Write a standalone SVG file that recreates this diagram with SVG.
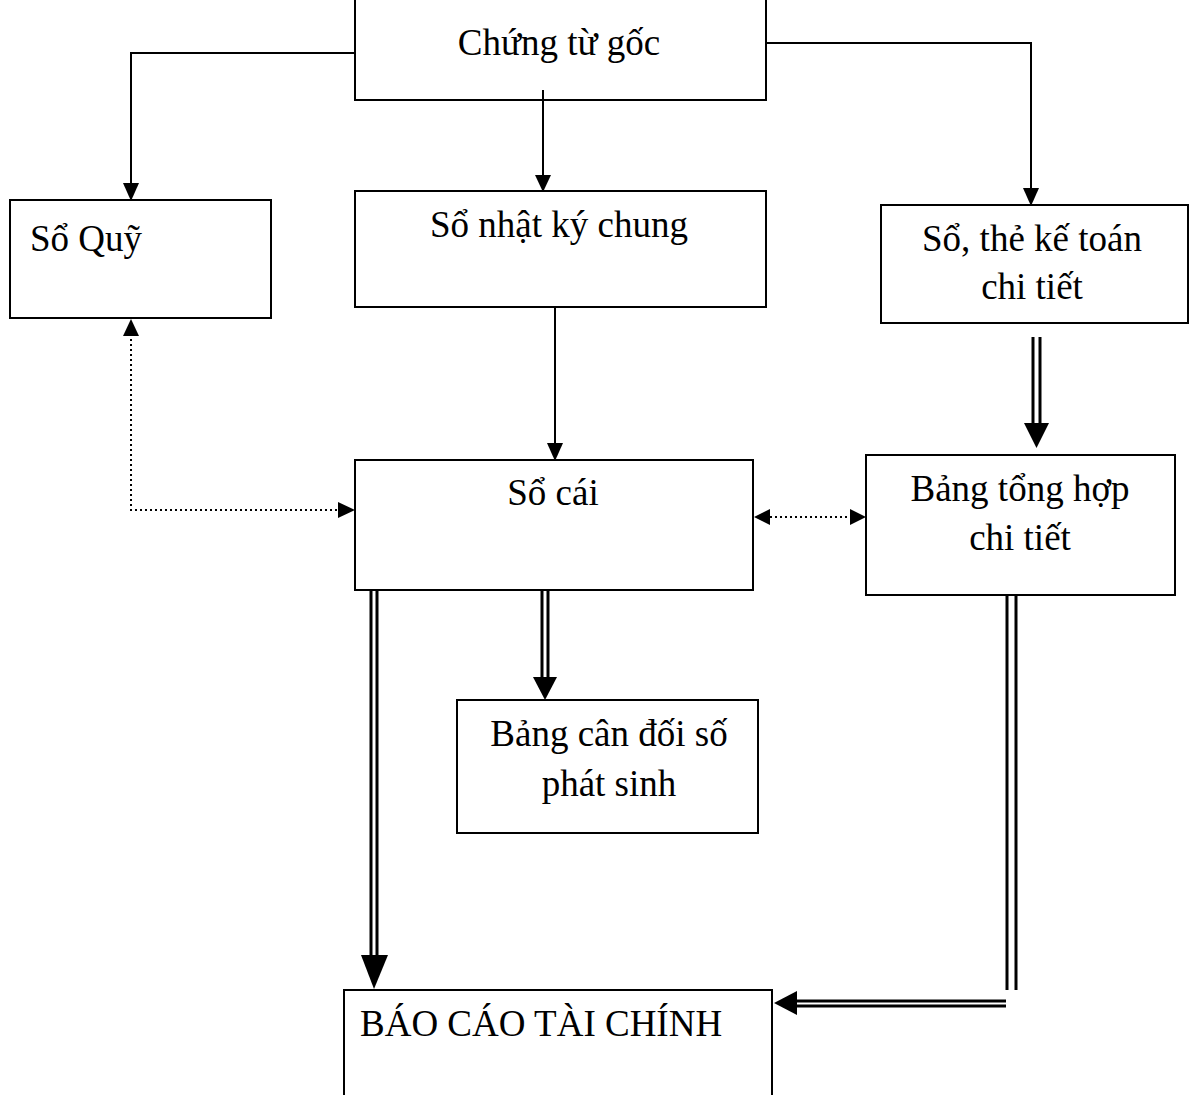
<svg xmlns="http://www.w3.org/2000/svg" width="1194" height="1095" viewBox="0 0 1194 1095">
  <style>
    .box { fill: #fff; stroke: #000; stroke-width: 2; }
    .lbl { font-family: "Liberation Serif", "Times New Roman", serif; font-size: 37px; fill: #000; }
    .c { text-anchor: middle; }
    .ln { fill: none; stroke: #000; stroke-width: 2; }
    .dbl { fill: none; stroke: #000; stroke-width: 3; }
    .dot { fill: none; stroke: #000; stroke-width: 2; stroke-dasharray: 2 3; }
    .head { fill: #000; }
  </style>
  <rect width="1194" height="1095" fill="#fff"/>

  <g id="chung-tu-goc">
    <rect class="box" x="355" y="-2" width="411" height="102"/>
    <text class="lbl c" x="559" y="55">Chứng từ gốc</text>
  </g>
  <g id="so-quy">
    <rect class="box" x="10" y="200" width="261" height="118"/>
    <text class="lbl" x="30" y="251">Sổ Quỹ</text>
  </g>
  <g id="so-nhat-ky-chung">
    <rect class="box" x="355" y="191" width="411" height="116"/>
    <text class="lbl c" x="559" y="237">Sổ nhật ký chung</text>
  </g>
  <g id="so-the-ke-toan-chi-tiet">
    <rect class="box" x="881" y="205" width="307" height="118"/>
    <text class="lbl c" x="1032" y="251">Sổ, thẻ kế toán</text>
    <text class="lbl c" x="1032" y="299">chi tiết</text>
  </g>
  <g id="so-cai">
    <rect class="box" x="355" y="460" width="398" height="130"/>
    <text class="lbl c" x="553" y="505">Sổ cái</text>
  </g>
  <g id="bang-tong-hop-chi-tiet">
    <rect class="box" x="866" y="455" width="309" height="140"/>
    <text class="lbl c" x="1020" y="501">Bảng tổng hợp</text>
    <text class="lbl c" x="1020" y="550">chi tiết</text>
  </g>
  <g id="bang-can-doi-so-phat-sinh">
    <rect class="box" x="457" y="700" width="301" height="133"/>
    <text class="lbl c" x="609" y="746">Bảng cân đối số</text>
    <text class="lbl c" x="609" y="796">phát sinh</text>
  </g>
  <g id="bao-cao-tai-chinh">
    <rect class="box" x="344" y="990" width="428" height="120"/>
    <text class="lbl" x="360" y="1036">BÁO CÁO TÀI CHÍNH</text>
  </g>

  <g id="connectors">
    <!-- Chứng từ gốc to Sổ Quỹ -->
    <polyline class="ln" points="355,53 131,53 131,185"/>
    <polygon class="head" points="123,183 139,183 131,201"/>
    <!-- Chứng từ gốc to Sổ nhật ký chung -->
    <line class="ln" x1="543" y1="90" x2="543" y2="176"/>
    <polygon class="head" points="535,175 551,175 543,192"/>
    <!-- Chứng từ gốc to Sổ, thẻ kế toán chi tiết -->
    <polyline class="ln" points="766,43 1031,43 1031,190"/>
    <polygon class="head" points="1023,188 1039,188 1031,206"/>
    <!-- Sổ nhật ký chung to Sổ cái -->
    <line class="ln" x1="555" y1="307" x2="555" y2="445"/>
    <polygon class="head" points="547,443 563,443 555,461"/>
    <!-- Sổ Quỹ and Sổ cái (dotted, two-way) -->
    <polyline class="dot" points="131,334 131,510 340,510"/>
    <polygon class="head" points="123,336 139,336 131,319"/>
    <polygon class="head" points="338,502 338,518 355,510"/>
    <!-- Sổ cái and Bảng tổng hợp chi tiết (dotted, two-way) -->
    <line class="dot" x1="770" y1="517" x2="851" y2="517"/>
    <polygon class="head" points="770,509 770,525 754,517"/>
    <polygon class="head" points="850,509 850,525 866,517"/>
    <!-- Sổ, thẻ kế toán chi tiết to Bảng tổng hợp chi tiết -->
    <line class="dbl" x1="1033" y1="337" x2="1033" y2="425"/>
    <line class="dbl" x1="1040" y1="337" x2="1040" y2="425"/>
    <polygon class="head" points="1024,423 1049,423 1036.5,448"/>
    <!-- Sổ cái to Bảng cân đối số phát sinh -->
    <line class="dbl" x1="542" y1="590" x2="542" y2="678"/>
    <line class="dbl" x1="548" y1="590" x2="548" y2="678"/>
    <polygon class="head" points="533,677 557,677 545,700"/>
    <!-- Sổ cái to Báo cáo tài chính -->
    <line class="dbl" x1="371" y1="590" x2="371" y2="957"/>
    <line class="dbl" x1="377" y1="590" x2="377" y2="957"/>
    <polygon class="head" points="361,955 388,955 374,989"/>
    <!-- Bảng tổng hợp chi tiết to Báo cáo tài chính -->
    <line class="dbl" x1="1007" y1="595" x2="1007" y2="990"/>
    <line class="dbl" x1="1016" y1="595" x2="1016" y2="990"/>
    <line class="dbl" x1="795" y1="1001" x2="1006" y2="1001"/>
    <line class="dbl" x1="795" y1="1006" x2="1006" y2="1006"/>
    <polygon class="head" points="797,991 797,1015 774,1003"/>
  </g>
</svg>
